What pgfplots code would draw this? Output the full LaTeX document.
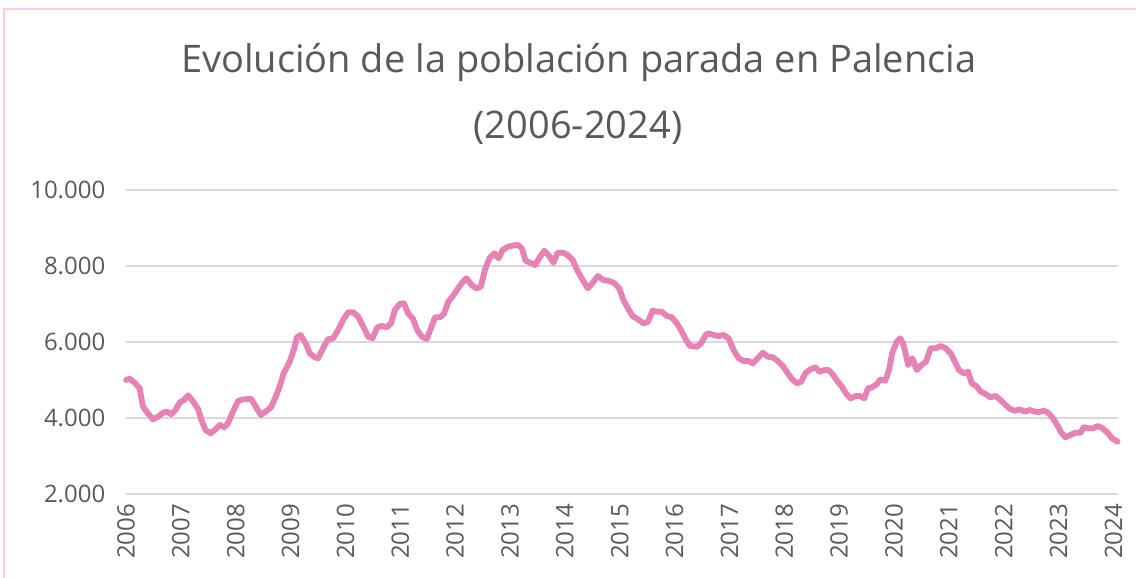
\documentclass[border=0pt]{standalone}
\usepackage{pgfplots}
\pgfplotsset{compat=1.18}
\usepackage{fontspec}
\setmainfont{Open Sans}
\definecolor{linepink}{RGB}{231,130,180}
\definecolor{txtgray}{RGB}{89,89,89}
\definecolor{gridgray}{RGB}{217,217,217}
\definecolor{framepink}{RGB}{248,204,240}
\begin{document}
\begin{tikzpicture}
\useasboundingbox (0,0) rectangle (852pt,433.5pt);
\fill[white] (0,0) rectangle (852pt,433.5pt);
\draw[framepink, line width=1.6pt] (3pt,0) -- (3pt,426.75pt) -- (860pt,426.75pt);
\node[txtgray, font=\fontsize{28.5}{32}\selectfont] at (434pt,386.5pt) {Evolución de la población parada en Palencia};
\node[txtgray, font=\fontsize{28.5}{32}\selectfont] at (433.5pt,337.5pt) {(2006-2024)};
\begin{axis}[
  at={(94.5pt,63pt)}, anchor=south west,
  scale only axis, width=744pt, height=228pt,
  xmin=0, xmax=217, ymin=2000, ymax=10000,
  scaled y ticks=false,
  axis line style={draw=none},
  tick style={draw=none},
  ymajorgrids, grid style={gridgray, line width=0.9pt},
  ytick={2000,4000,6000,8000,10000},
  yticklabels={2.000,4.000,6.000,8.000,10.000},
  xtick={0,12,...,216},
  xticklabels={2006,2007,2008,2009,2010,2011,2012,2013,2014,2015,2016,2017,2018,2019,2020,2021,2022,2023,2024},
  ticklabel style={txtgray, font=\fontsize{18}{20}\selectfont},
  yticklabel style={anchor=east, xshift=-12pt},
  xticklabel style={rotate=90, anchor=east, yshift=0pt, xshift=-4pt},
  /pgf/number format/assume math mode=true,
  clip=false,
]
\addplot[linepink, line width=4.4pt, line join=round, line cap=round] coordinates {
(0,5000)(0.8,5034)(1.9,4929)(3,4781)(3.7,4297)(4.8,4123)(5.9,3966)(7,4034)(8.1,4140)(9,4166)
(9.9,4097)(10.8,4210)(11.8,4413)(12.7,4474)(13.6,4597)(14.7,4429)(15.8,4229)(16.5,3947)(17.4,3684)(18.5,3597)
(19.6,3703)(20.5,3816)(21.5,3755)(22.3,3861)(23.4,4166)(24.5,4447)(25.6,4492)(27.4,4500)(28.3,4316)(29.5,4079)
(30.5,4166)(31.7,4281)(32.6,4518)(33.6,4824)(34.5,5176)(35.8,5482)(36.8,5834)(37.4,6123)(38.2,6184)(39.3,5966)
(40.2,5703)(41.3,5600)(42,5571)(43.1,5834)(44.2,6071)(45.3,6097)(46.4,6316)(47.5,6579)(48.6,6781)(49.7,6781)
(50.8,6666)(51.9,6403)(53,6140)(53.9,6097)(55,6387)(55.9,6421)(57,6387)(58,6492)(58.8,6842)(59.9,7000)
(60.8,7018)(61.7,6755)(62.8,6605)(63.7,6316)(64.7,6140)(65.8,6079)(66.6,6334)(67.6,6650)(68.7,6650)(69.6,6755)
(70.5,7061)(71.4,7193)(72.5,7387)(73.4,7545)(74.5,7676)(75.6,7500)(76.6,7413)(77.6,7456)(78.5,7895)(79.5,8202)
(80.6,8334)(81.5,8202)(82.4,8421)(83.6,8509)(84.7,8540)(85.8,8553)(86.6,8465)(87.4,8140)(88.4,8087)(89.5,8026)
(90.6,8245)(91.5,8403)(92.6,8263)(93.5,8087)(94.4,8350)(95.5,8350)(96.6,8290)(97.7,8158)(98.6,7913)(99.7,7676)
(101,7413)(102,7545)(103.2,7737)(104.4,7632)(105.5,7614)(106.9,7545)(107.9,7413)(108.8,7105)(109.8,6886)(110.8,6684)
(112,6597)(113.2,6492)(114.2,6534)(115.2,6824)(116.1,6798)(117.2,6798)(118.3,6684)(119.4,6650)(120.5,6492)(121.6,6271)
(122.5,6053)(123.4,5895)(124.9,5876)(125.8,5966)(126.8,6184)(127.4,6229)(128.5,6184)(129.6,6158)(130.7,6184)(131.8,6097)
(132.9,5790)(134,5571)(135.1,5500)(136.2,5500)(137.1,5439)(138.2,5571)(139.3,5719)(140.4,5613)(141.5,5597)(142.5,5508)
(143.7,5368)(144.7,5192)(145.7,5018)(146.8,4913)(147.7,4956)(148.6,5176)(149.7,5281)(150.8,5334)(151.7,5219)(152.8,5263)
(153.7,5263)(154.7,5132)(155.7,4956)(156.6,4824)(157.6,4632)(158.5,4518)(159.6,4579)(160.5,4579)(161.5,4518)(162.3,4781)
(163.2,4808)(164.2,4886)(165,5018)(166.1,4982)(166.9,5263)(167.6,5703)(168.6,6008)(169.4,6097)(170.1,5921)(171.1,5395)
(172,5571)(173,5263)(174,5395)(175,5482)(176,5834)(177.1,5834)(178.2,5895)(179.3,5834)(180.4,5703)(181.3,5482)
(182.2,5263)(183.3,5176)(184.2,5219)(185,4913)(186,4842)(187,4692)(188,4632)(189.1,4544)(190.2,4579)(191.3,4474)
(192.4,4342)(193.5,4229)(194.6,4192)(195.5,4229)(196.6,4166)(197.7,4210)(198.8,4166)(199.7,4158)(200.8,4192)(201.7,4140)
(202.6,4018)(203.7,3816)(204.6,3613)(205.5,3492)(206.6,3553)(207.7,3613)(208.8,3613)(209.5,3755)(210.5,3729)(211.5,3729)
(212.6,3790)(213.6,3729)(214.7,3613)(215.7,3466)(216.9,3376)
};
\end{axis}
\end{tikzpicture}
\end{document}
